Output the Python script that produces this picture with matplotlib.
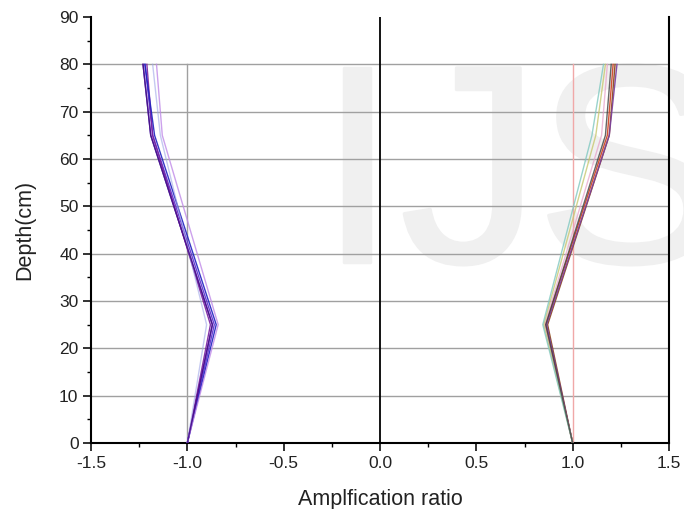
import matplotlib
matplotlib.use("Agg")
import matplotlib.pyplot as plt
import matplotlib.patheffects as pe
from matplotlib.ticker import MultipleLocator

plt.rcParams['font.family'] = ['Liberation Sans', 'DejaVu Sans']

depth = [0, 25, 65, 80]

left_series = [
    [-1.00, -0.87, -1.19, -1.23],
    [-1.00, -0.86, -1.18, -1.22],
    [-1.00, -0.88, -1.18, -1.21],
    [-1.00, -0.85, -1.17, -1.22],
    [-1.00, -0.84, -1.13, -1.16],
    [-1.00, -0.90, -1.14, -1.18],
    [-1.00, -0.87, -1.19, -1.23],
]
left_colors = ['#3a1fa8', '#5b2bd0', '#7a1fa0', '#2020c0', '#c08ae8', '#9fa6e8', '#4b0f8a']
left_alpha = [0.9, 0.9, 0.9, 0.9, 0.8, 0.6, 0.9]

right_series = [
    [1.00, 0.870, 1.19, 1.22],
    [1.00, 0.860, 1.18, 1.21],
    [1.00, 0.865, 1.19, 1.23],
    [1.00, 0.855, 1.15, 1.18],
    [1.00, 0.850, 1.12, 1.17],
    [1.00, 0.845, 1.10, 1.16],
    [1.00, 0.860, 1.17, 1.20],
]
right_colors = ['#8b4513', '#d04020', '#7a3fa0', '#e8a0c8', '#c8c870', '#80c8c0', '#404040']
right_alpha = [0.9, 0.9, 0.9, 0.7, 0.8, 0.8, 0.8]

ref_depth = [0, 80]

# watermark letters and their left edges in pixels
wm_letters = ['I', 'J', 'S']
wm_left_px = [318, 400, 536]

fig = plt.figure(figsize=(6.84, 5.09), dpi=100)
ax = fig.add_axes([91 / 684, 1 - 443 / 509, 578 / 684, 426 / 509])

for ch, xp in zip(wm_letters, wm_left_px):
    fig.text(xp / 684, 1 - 262 / 509, ch, fontsize=203, color='#f0f0f0', zorder=-5,
             ha='left', va='baseline',
             path_effects=[pe.withStroke(linewidth=2.5, foreground='#f0f0f0')])
ax.patch.set_alpha(0)

for v in range(10, 90, 10):
    ax.axhline(v, color='#a0a0a0', lw=1.0, zorder=1)

ax.plot([-1, -1], ref_depth, color='#a0a0a0', lw=1.0, zorder=2)
ax.plot([1, 1], ref_depth, color='#f0a8a8', lw=1.0, zorder=2)
ax.axvline(0, color='black', lw=1.3, zorder=2)

for vals, c, a in zip(left_series, left_colors, left_alpha):
    ax.plot(vals, depth, color=c, lw=1.0, alpha=a, zorder=3)
for vals, c, a in zip(right_series, right_colors, right_alpha):
    ax.plot(vals, depth, color=c, lw=1.0, alpha=a, zorder=3)

ax.set_xlim(-1.5, 1.5)
ax.set_ylim(0, 90)
ax.xaxis.set_minor_locator(MultipleLocator(0.25))
ax.yaxis.set_major_locator(MultipleLocator(10))
ax.yaxis.set_minor_locator(MultipleLocator(5))
ax.set_xticks([-1.5, -1.0, -0.5, 0.0, 0.5, 1.0, 1.5])
ax.set_xticklabels(['-1.5', '-1.0', '-0.5', '0.0', '0.5', '1.0', '1.5'])

ax.spines['top'].set_visible(False)
ax.spines['left'].set_linewidth(1.5)
ax.spines['bottom'].set_linewidth(1.5)
ax.spines['right'].set_linewidth(1.5)
ax.tick_params(axis='both', which='major', direction='out', length=6, width=1.3,
               labelsize=12.5, colors='#222222', pad=3)
ax.tick_params(axis='both', which='minor', direction='out', length=3, width=1.0)
ax.tick_params(axis='y', right=False)

ax.set_xlabel('Amplfication ratio', fontsize=15.5, labelpad=13, color='#222222')
ax.set_ylabel('Depth(cm)', fontsize=15.5, labelpad=17, color='#222222')

fig.savefig('out.png', dpi=100)
